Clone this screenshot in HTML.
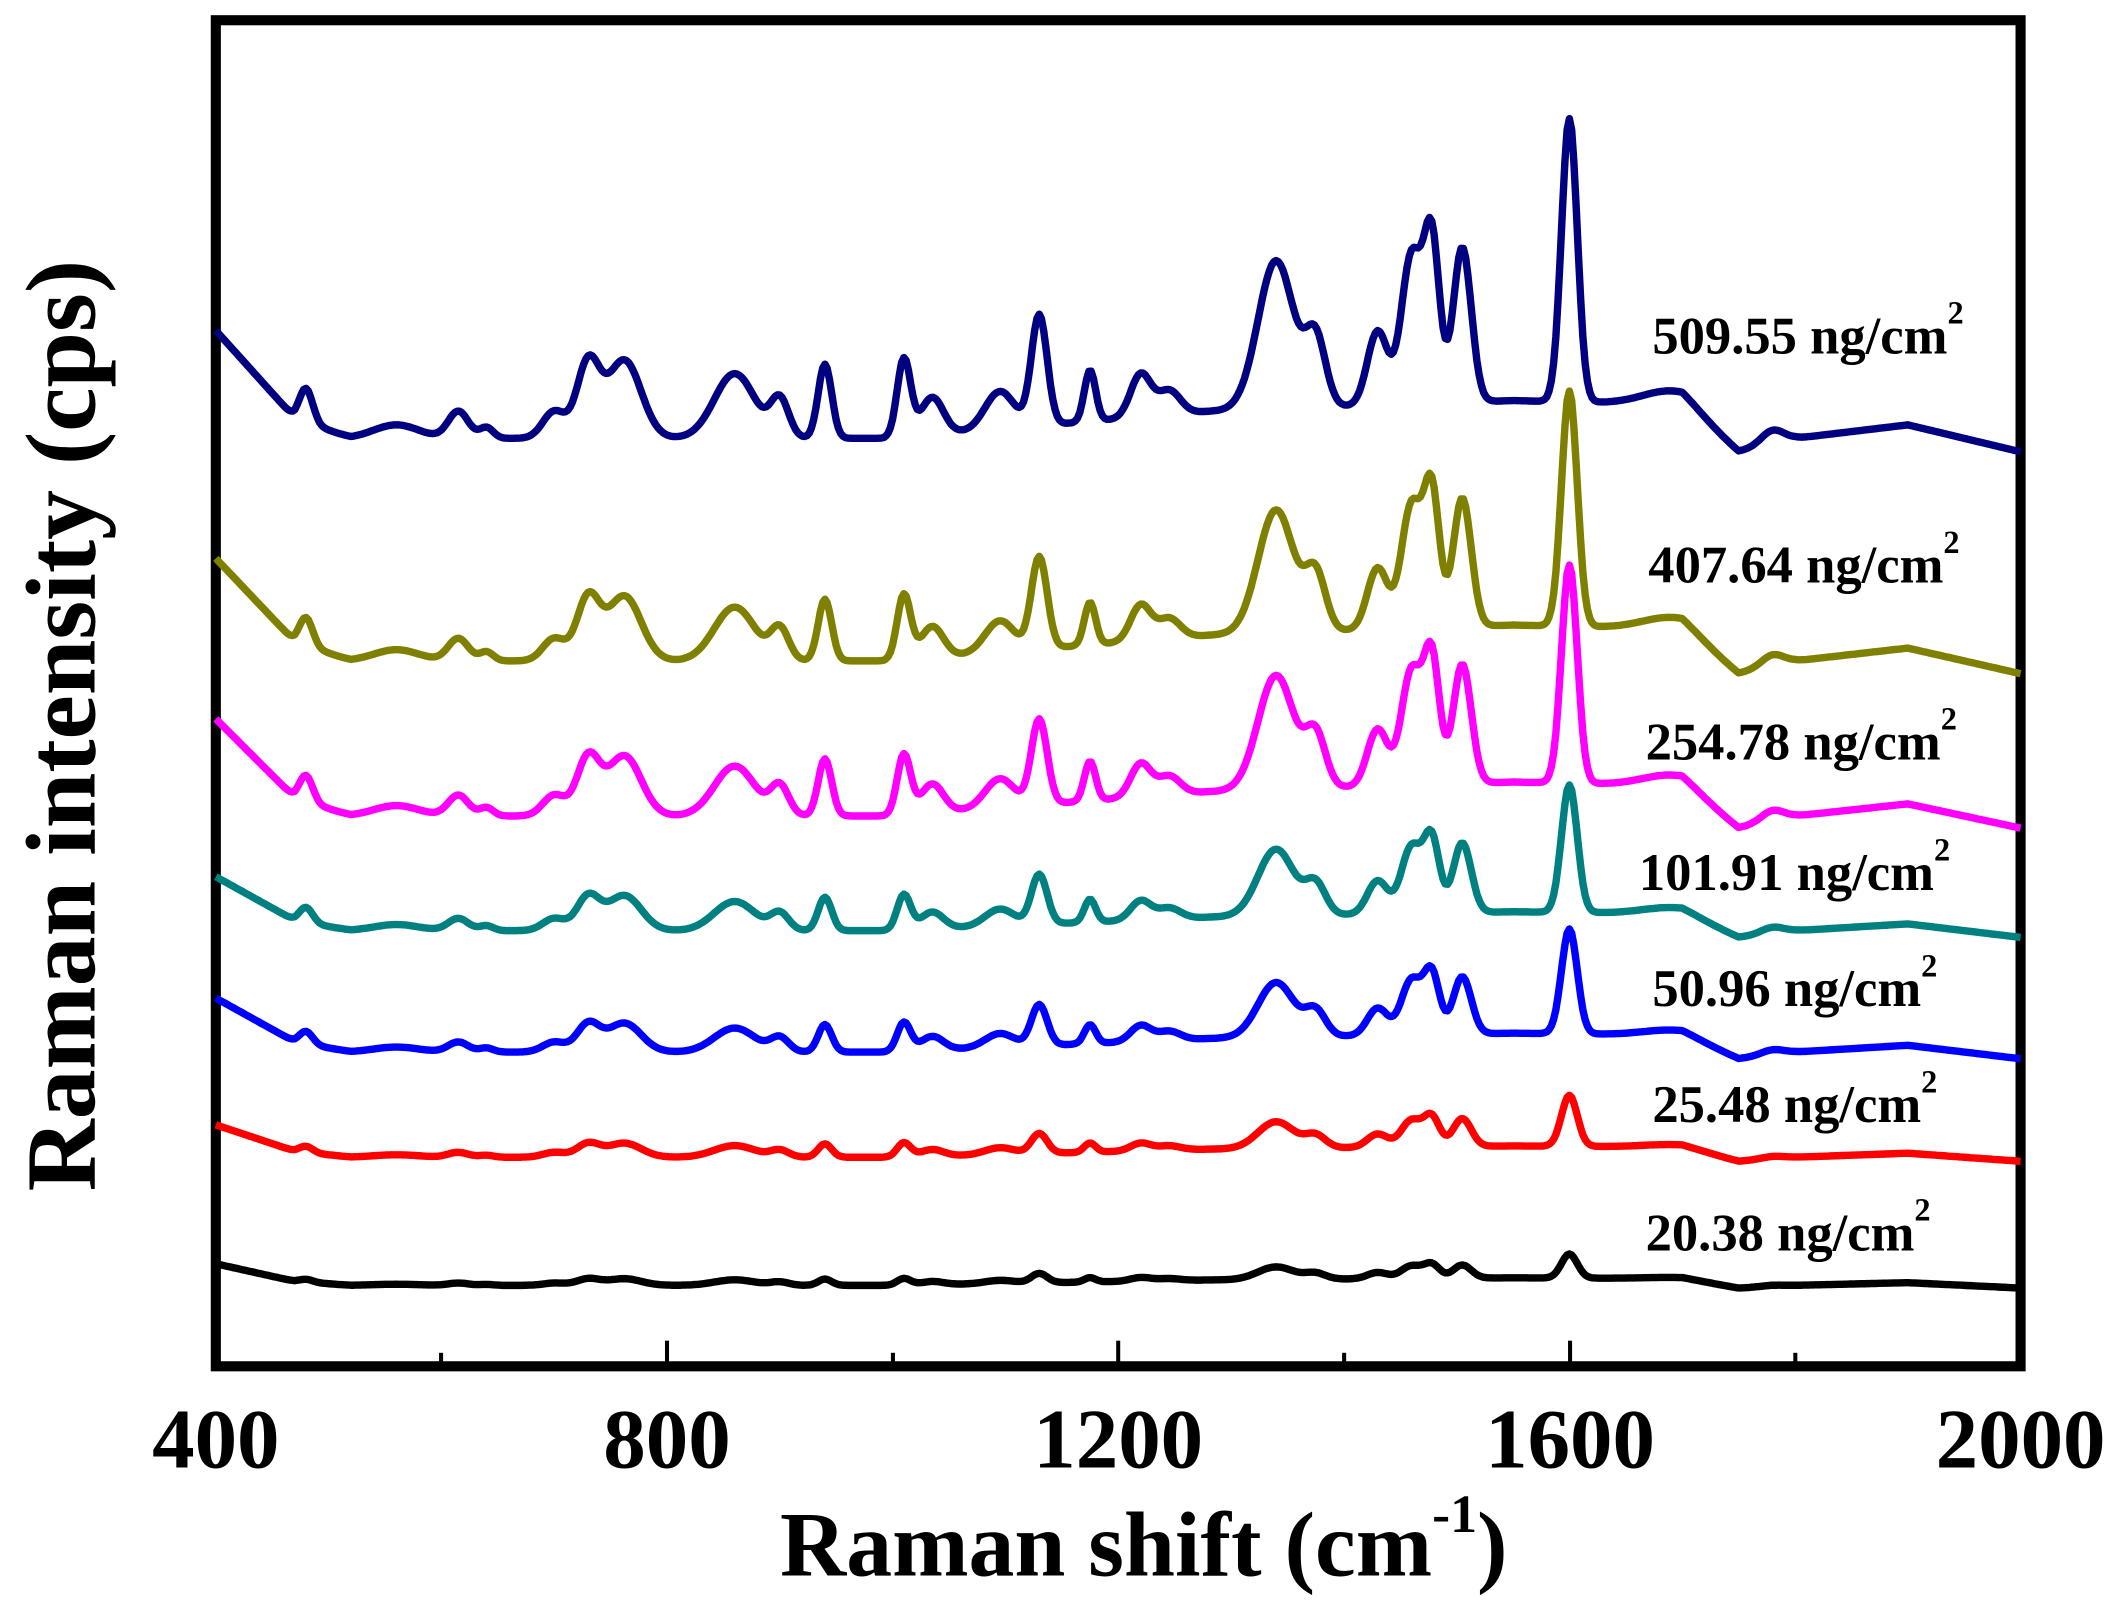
<!DOCTYPE html>
<html><head><meta charset="utf-8"><style>html,body{margin:0;padding:0;background:#fff}svg{display:block}</style></head>
<body>
<svg id="s" width="2115" height="1603" viewBox="0 0 1568 1188.5" preserveAspectRatio="none" xmlns="http://www.w3.org/2000/svg" font-family="'Liberation Serif', serif" font-weight="bold">
<rect x="160" y="15" width="1338" height="998" fill="none" stroke="#000" stroke-width="7.5"/>
<g stroke="#000" stroke-width="3">
<line x1="327" y1="1013" x2="327" y2="1003"/>
<line x1="494.5" y1="1013" x2="494.5" y2="994"/>
<line x1="662" y1="1013" x2="662" y2="1003"/>
<line x1="829" y1="1013" x2="829" y2="994"/>
<line x1="996.5" y1="1013" x2="996.5" y2="1003"/>
<line x1="1164" y1="1013" x2="1164" y2="994"/>
<line x1="1331" y1="1013" x2="1331" y2="1003"/>
</g>
<g font-size="63" text-anchor="middle">
<text x="160" y="1088">400</text>
<text x="494.5" y="1088">800</text>
<text x="829" y="1088">1200</text>
<text x="1164" y="1088">1600</text>
<text x="1498" y="1088">2000</text>
</g>
<text x="848" y="1168" font-size="68" text-anchor="middle">Raman shift (cm<tspan font-size="40" dy="-32">-1</tspan><tspan dy="32">)</tspan></text>
<text transform="translate(70,538) rotate(-90)" font-size="74" text-anchor="middle">Raman intensity (cps)</text>
<g id="curves" fill="none" stroke-width="5.5" stroke-linejoin="round"></g>
<g font-size="39">
<text x="1225" y="262">509.55 ng/cm<tspan font-size="24" dy="-22">2</tspan></text>
<text x="1222" y="432">407.64 ng/cm<tspan font-size="24" dy="-22">2</tspan></text>
<text x="1220" y="563">254.78 ng/cm<tspan font-size="24" dy="-22">2</tspan></text>
<text x="1215" y="660">101.91 ng/cm<tspan font-size="24" dy="-22">2</tspan></text>
<text x="1225" y="746">50.96 ng/cm<tspan font-size="24" dy="-22">2</tspan></text>
<text x="1225" y="832">25.48 ng/cm<tspan font-size="24" dy="-22">2</tspan></text>
<text x="1220" y="927">20.38 ng/cm<tspan font-size="24" dy="-22">2</tspan></text>
</g>
</svg>
<script>
var peaks=[[480,25,6],[560,10,20],[615,20,9],[640,8,6],[700,20,10],[730,55,10],[762,58,15],[860,48,18],[900,28,8],[940,55,6],[1010,58,6],[1035,28,10],[1095,28,13],[1130,82,7],[1175,38,5],[1220,32,9],[1245,18,10],[1340,110,16],[1375,50,9],[1430,55,9],[1460,110,9],[1478,120,7],[1505,115,8],[1600,210,7],[1690,10,25],[1780,10,10]];
var bp=[[400,-80],[470,-15],[520,0],[1000,0],[1280,-20],[1550,-28],[1700,-25],[1750,10],[1800,0],[1900,-10],[2000,10]];
function base(x){for(var i=0;i<bp.length-1;i++){if(x<=bp[i+1][0]){var t=(x-bp[i][0])/(bp[i+1][0]-bp[i][0]);return bp[i][1]+t*(bp[i+1][1]-bp[i][1]);}}return 10;}
function shape(x){var s=0;for(var p of peaks){var d=(x-p[0])/p[2];s+=p[1]*Math.exp(-0.5*d*d);}return s;}
var cs=[["#000080",325,1,1],["#808000",490,0.95,0.83],["#ff00ff",605,0.9,0.77],["#008080",690,0.5,0.45],["#0000ff",780,0.5,0.37],["#ff0000",858,0.3,0.18],["#000000",953,0.2,0.085]];
var g=document.getElementById("curves"),h="";
for(var c of cs){var d="";for(var x=400;x<=2000;x+=2){var X=160+(x-400)/1600*1338;var Y=c[1]+c[2]*base(x)-c[3]*shape(x);d+=(x==400?"M":"L")+X.toFixed(1)+","+Y.toFixed(1);}h+='<path stroke="'+c[0]+'" d="'+d+'"/>';}
g.innerHTML=h;
</script>
</body></html>
